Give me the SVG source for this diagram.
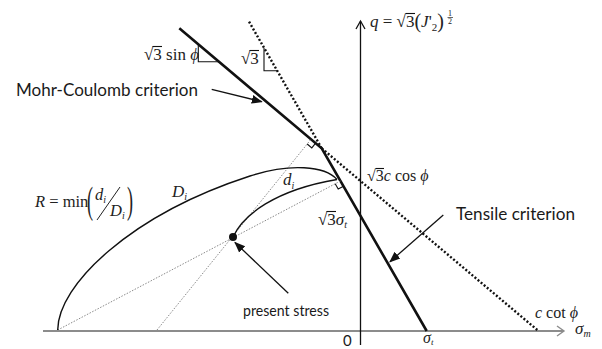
<svg xmlns="http://www.w3.org/2000/svg" width="602" height="349" viewBox="0 0 602 349">
<defs>
<style>
.sans{font-family:Lato,"Open Sans","Liberation Sans",sans-serif;fill:#1a1a1a}
.math{font-family:"Liberation Serif","DejaVu Serif",serif;fill:#222}
.it{font-style:italic}
.thick{stroke:#111;stroke-width:2.6;fill:none;stroke-linejoin:miter}
.dotl{stroke:#111;stroke-width:2.4;stroke-dasharray:2 2;fill:none}
.cons{stroke:#8a8a8a;stroke-width:1;stroke-dasharray:1.5 1.5;fill:none}
.curve{stroke:#111;stroke-width:1.4;fill:none}
.thin{stroke:#111;stroke-width:1.1;fill:none}
.arr{stroke:#111;stroke-width:1.3;fill:none;marker-end:url(#ah)}
</style>
<marker id="ah" viewBox="0 0 10 10" refX="9" refY="5" markerWidth="11" markerHeight="11" markerUnits="userSpaceOnUse" orient="auto"><path d="M0,1 L10,5 L0,9 z" fill="#111"/></marker>
</defs>
<rect width="602" height="349" fill="#fff"/>

<g id="axes">
<line x1="43" y1="331" x2="563" y2="331" stroke="#8c8c8c" stroke-width="2"/>
<polyline points="557,326 564,331 557,336" stroke="#8c8c8c" stroke-width="1.4" fill="none"/>
<line x1="360.5" y1="345" x2="360.5" y2="21" stroke="#111" stroke-width="1.3"/>
<polyline points="356,29 360.5,21 365,29" stroke="#111" stroke-width="1.3" fill="none"/>
</g>

<g id="criteria">
<polyline class="thick" points="179.3,28.3 321.7,148.3 426.7,331"/>
<line class="dotl" x1="321.7" y1="148.3" x2="537.3" y2="330"/>
<line class="dotl" x1="321.7" y1="148.3" x2="248.5" y2="20.7"/>
<polyline class="thin" points="198.3,44.3 198.3,61.7 218.9,61.7"/>
<polyline class="thin" points="264,48 264,70.7 277.2,70.7"/>
</g>

<g id="construction">
<line class="cons" x1="57.7" y1="330" x2="340.5" y2="181"/>
<line class="cons" x1="157" y1="330" x2="311" y2="139.3"/>
<polyline class="thin" points="315.6,143.2 311.8,147.9 307.2,144"/>
<polyline class="thin" points="343.5,186.2 338.2,189 335.2,183.8"/>
</g>

<g id="curves">
<path class="curve" d="M57.7,330 C58,285 130,215 250,176 C290,163 325,166 337,179.5"/>
<path class="curve" d="M233,237 C243,215 275,190 337,179.5"/>
<circle id="present-stress" cx="233" cy="237" r="4" fill="#111"/>
</g>

<g id="connectors">
<line class="arr" x1="211.7" y1="89.3" x2="261.7" y2="101.7"/>
<line class="arr" x1="443.3" y1="215" x2="390" y2="261.7"/>
<line class="arr" x1="288.3" y1="293.3" x2="235" y2="242.5"/>
</g>

<g id="labels">
<text class="sans" x="16" y="96" font-size="18" textLength="182" lengthAdjust="spacingAndGlyphs">Mohr-Coulomb criterion</text>
<text class="sans" x="456" y="220" font-size="18" textLength="119" lengthAdjust="spacingAndGlyphs">Tensile criterion</text>
<text class="sans" x="243" y="316" font-size="15" textLength="86" lengthAdjust="spacingAndGlyphs">present stress</text>
<text class="sans" x="343" y="346" font-size="15">0</text>

<text class="math" x="144" y="60" font-size="17">√3 sin <tspan class="it">ϕ</tspan></text>
<line class="thin" x1="152.5" y1="46.5" x2="162" y2="46.5"/>
<text class="math" x="241" y="64" font-size="17">√3</text>
<line class="thin" x1="249.5" y1="50.5" x2="259" y2="50.5"/>

<text class="math" x="370" y="27" font-size="17"><tspan class="it">q</tspan> = √3<tspan font-size="20" dy="1">(</tspan><tspan class="it" dy="-1">J</tspan>'<tspan font-size="11" dy="4">2</tspan><tspan font-size="20" dy="-3">)</tspan></text>
<line class="thin" x1="405.5" y1="13.5" x2="415" y2="13.5"/>
<text class="math" x="448" y="16" font-size="8">1</text>
<line x1="447.5" y1="17.5" x2="453" y2="17.5" stroke="#222" stroke-width="0.7"/>
<text class="math" x="448" y="24" font-size="8">2</text>

<text class="math" x="367" y="181" font-size="16">√3<tspan class="it">c</tspan> cos <tspan class="it">ϕ</tspan></text>
<line class="thin" x1="375.5" y1="168.5" x2="384" y2="168.5"/>

<text class="math" x="318" y="225" font-size="17">√3<tspan class="it">σ</tspan><tspan class="it" font-size="10" dy="3">t</tspan></text>
<line class="thin" x1="326.5" y1="211.5" x2="336" y2="211.5"/>

<text class="math it" x="283" y="185" font-size="17">d<tspan font-size="10" dy="4">i</tspan></text>
<text class="math it" x="172" y="197" font-size="17">D<tspan font-size="10" dy="3">i</tspan></text>

<text class="math" x="35" y="207" font-size="16.5"><tspan class="it">R</tspan> = min</text>
<text class="math" transform="translate(87,213) scale(0.75,1.6)" font-size="24">(</text>
<text class="math it" x="95" y="200" font-size="16.5">d<tspan font-size="10" dy="3">i</tspan></text>
<line x1="120" y1="187" x2="97" y2="220" stroke="#222" stroke-width="1"/>
<text class="math it" x="110" y="216" font-size="16.5">D<tspan font-size="10" dy="3">i</tspan></text>
<text class="math" transform="translate(127,213) scale(0.75,1.6)" font-size="24">)</text>

<text class="math" x="535" y="318" font-size="16"><tspan class="it">c</tspan> cot <tspan class="it">ϕ</tspan></text>
<text class="math it" x="575" y="334" font-size="17">σ<tspan font-size="10" dy="3">m</tspan></text>
<text class="math it" x="423" y="343" font-size="16">σ<tspan font-size="9" dy="2">t</tspan></text>
</g>
</svg>
